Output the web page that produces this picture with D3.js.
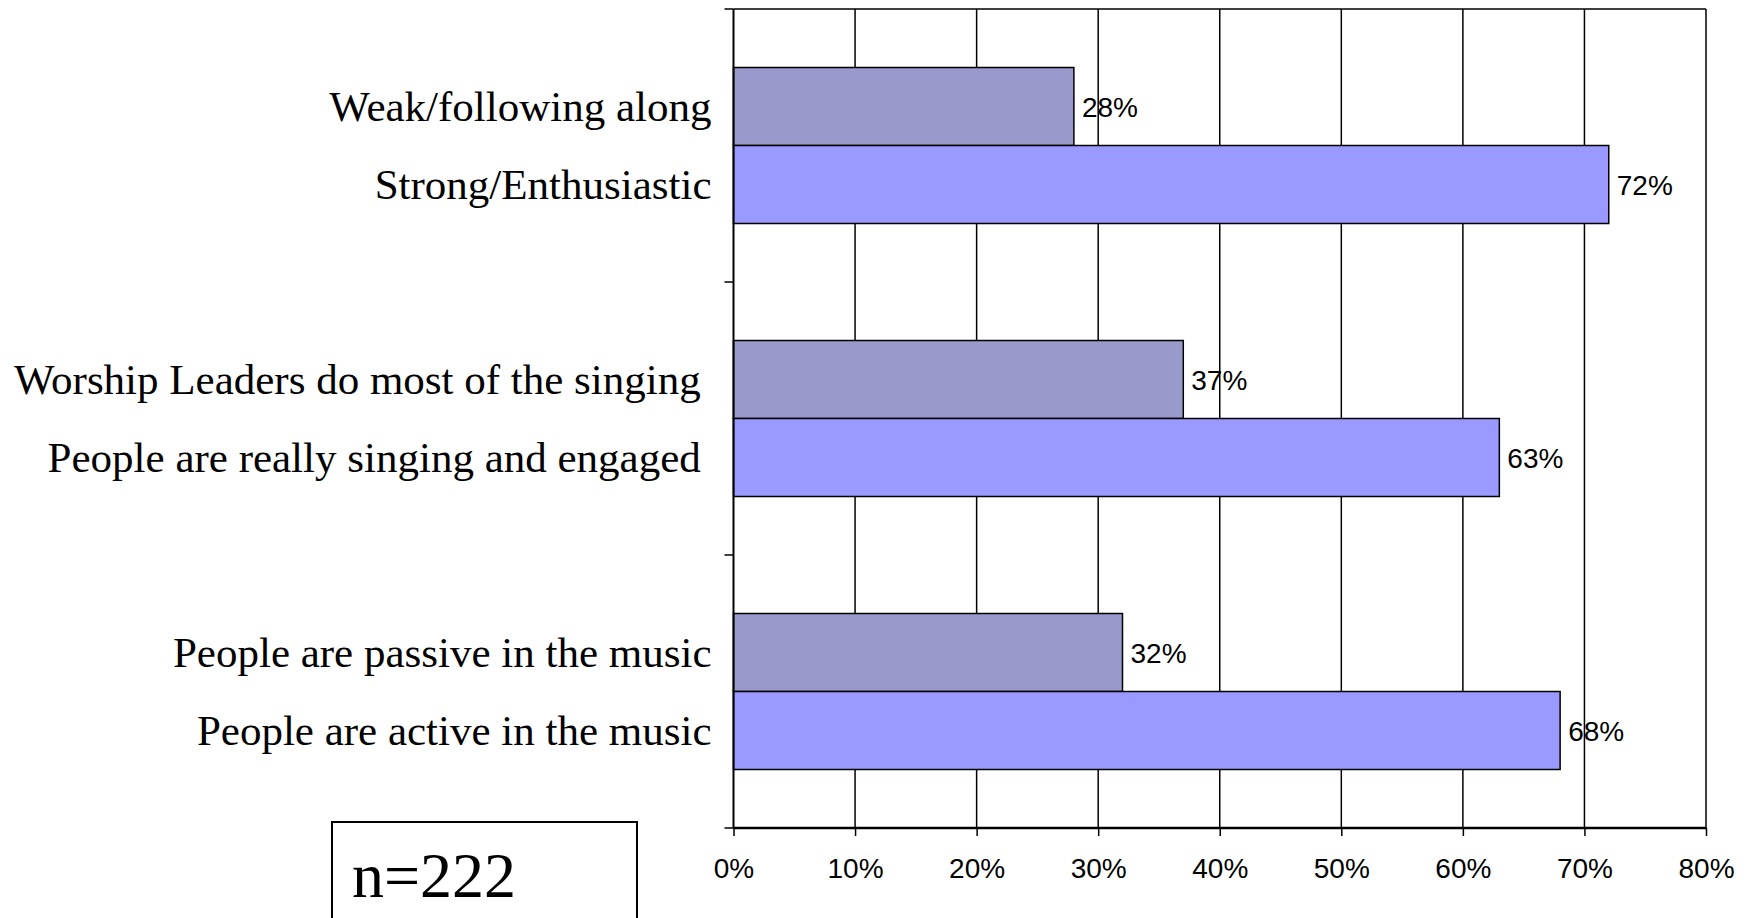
<!DOCTYPE html>
<html>
<head>
<meta charset="utf-8">
<script src="https://cdn.jsdelivr.net/npm/d3@7"></script>
<style>
  html, body { margin: 0; padding: 0; background: #ffffff; }
  svg { display: block; }
  .cat { font-family: "Liberation Serif", "Times New Roman", serif; white-space: pre; }
  .val, .tick text { font-family: "Liberation Sans", Arial, sans-serif; }
</style>
</head>
<body>
<svg id="chart" width="1748" height="918"></svg>
<script>
// ---- data ----
const groupIds = ["g1", "g2", "g3"];
const negLabels = ["Weak/following along", "Worship Leaders do most of the singing ", "People are passive in the music"];
const posLabels = ["Strong/Enthusiastic", "People are really singing and engaged ", "People are active in the music"];
const negValues = [28, 37, 32];
const posValues = [72, 63, 68];
const xTickValues = [0, 10, 20, 30, 40, 50, 60, 70, 80];
const sampleNote = "n=222";

// ---- layout ----
const W = 1748, H = 918;
const plot = { left: 733.5, right: 1706, top: 9, bottom: 828 };
const colNeg = "#9999CC", colPos = "#9999FF";

const svg = d3.select("#chart");
svg.append("rect").attr("width", W).attr("height", H).attr("fill", "#fff");

const x = d3.scaleLinear().domain([0, 80]).range([plot.left, plot.right]);
const y = d3.scaleBand().domain(groupIds).range([plot.top, plot.bottom]).padding(0);
const sub = d3.scaleBand().domain(["neg", "pos"]).range([0, y.bandwidth()]).paddingInner(0).paddingOuter(0.75);

const rows = groupIds.map((g, i) => ({ g, negL: negLabels[i], posL: posLabels[i], neg: negValues[i], pos: posValues[i] }));
const bars = [];
rows.forEach(r => {
  bars.push({ g: r.g, s: "neg", v: r.neg, label: r.negL });
  bars.push({ g: r.g, s: "pos", v: r.pos, label: r.posL });
});

// gridlines
svg.append("g").selectAll("line").data(xTickValues.slice(1, -1)).join("line")
  .attr("x1", d => x(d)).attr("x2", d => x(d))
  .attr("y1", plot.top).attr("y2", plot.bottom)
  .attr("stroke", "#000").attr("stroke-width", 1.5);

// plot frame top and right
svg.append("line").attr("x1", plot.left).attr("x2", plot.right).attr("y1", plot.top).attr("y2", plot.top)
  .attr("stroke", "#000").attr("stroke-width", 1.5);
svg.append("line").attr("x1", plot.right).attr("x2", plot.right).attr("y1", plot.top).attr("y2", plot.bottom)
  .attr("stroke", "#000").attr("stroke-width", 1.5);

// bars
svg.append("g").selectAll("rect").data(bars).join("rect")
  .attr("x", x(0))
  .attr("y", d => y(d.g) + sub(d.s))
  .attr("width", d => x(d.v) - x(0))
  .attr("height", sub.bandwidth())
  .attr("fill", d => d.s === "neg" ? colNeg : colPos)
  .attr("stroke", "#000").attr("stroke-width", 1.5);

// value labels
svg.append("g").selectAll("text").data(bars).join("text")
  .attr("class", "val")
  .attr("x", d => x(d.v) + 8)
  .attr("y", d => y(d.g) + sub(d.s) + sub.bandwidth() / 2)
  .attr("dy", "0.36em")
  .attr("font-size", 28)
  .attr("fill", "#000")
  .text(d => d.v + "%");

// category labels
svg.append("g").selectAll("text").data(bars).join("text")
  .attr("class", "cat")
  .attr("x", plot.left - 22)
  .attr("y", d => y(d.g) + sub(d.s) + sub.bandwidth() / 2)
  .attr("dy", "0.34em")
  .attr("text-anchor", "end")
  .attr("font-size", 43)
  .attr("fill", "#000")
  .text(d => d.label);

// left axis with group-boundary ticks
const yBounds = groupIds.map(g => y(g)).concat([plot.bottom]);
svg.append("line").attr("x1", plot.left).attr("x2", plot.left).attr("y1", plot.top).attr("y2", plot.bottom)
  .attr("stroke", "#000").attr("stroke-width", 2);
svg.append("g").selectAll("line").data(yBounds).join("line")
  .attr("x1", plot.left - 9).attr("x2", plot.left)
  .attr("y1", d => d).attr("y2", d => d)
  .attr("stroke", "#000").attr("stroke-width", 1.5);

// bottom axis
const xAxis = d3.axisBottom(x).tickValues(xTickValues).tickFormat(d => d + "%").tickSize(8).tickPadding(22);
const gx = svg.append("g").attr("transform", `translate(0,${plot.bottom})`).call(xAxis);
gx.select(".domain").attr("stroke", "#000").attr("stroke-width", 2.5).attr("d", `M${plot.left},0H${plot.right}`);
gx.selectAll(".tick line").attr("stroke", "#000").attr("stroke-width", 1.5);
gx.selectAll(".tick text").attr("font-size", 28).attr("fill", "#000");

// sample size box
svg.append("rect").attr("x", 332).attr("y", 822).attr("width", 305).attr("height", 120)
  .attr("fill", "#fff").attr("stroke", "#000").attr("stroke-width", 2);
svg.append("text").attr("class", "cat").attr("x", 352).attr("y", 897)
  .attr("font-size", 64).attr("fill", "#000").text(sampleNote);
</script>
</body>
</html>
